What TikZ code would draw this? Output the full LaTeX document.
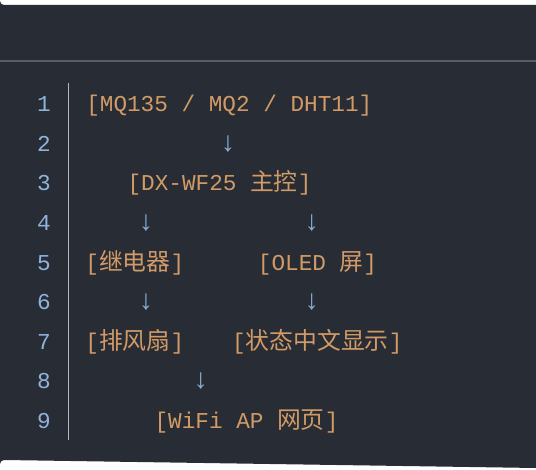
\documentclass[tikz,border=0pt]{standalone}
\usepackage{fontspec}
\setmonofont{Liberation Mono}
\newfontfamily\cjk[Scale=1.05]{Noto Sans CJK SC}
\definecolor{panelbg}{HTML}{282C34}
\definecolor{rulegray}{HTML}{595E66}
\definecolor{gutter}{HTML}{B3B8BF}
\definecolor{lineno}{HTML}{8FB3DC}
\definecolor{codeorange}{HTML}{D19A66}
\definecolor{arrowblue}{HTML}{86ADD9}

\begin{document}
\begin{tikzpicture}[x=1pt,y=-1pt,
  code/.style={font=\ttfamily\fontsize{22.7}{27}\selectfont, text=codeorange, inner sep=0pt, anchor=base},
  arr/.style={code, font=\ttfamily\fontsize{28}{30}\selectfont, text=arrowblue},
  lnum/.style={code, text=lineno}]
\def\top{111.8}
\def\row{39.6}

\useasboundingbox (0,0) rectangle (536,470);
\fill[white] (0,0) rectangle (536,470);
\clip (0,0) rectangle (536,470);

% Draw panel, header rule and gutter

\fill[panelbg] (536,5) -- (4,5) arc[start angle=90, end angle=180, radius=4] -- (0,464) arc[start angle=180, end angle=270, radius=4] -- (536,468) -- cycle;
\draw[rulegray, line width=2pt] (0,60.7) -- (536,60.7);
\coordinate (gtop) at (68.3,83.5);
\coordinate (gbot) at (68.3,440);
\draw[gutter, line width=1.3pt] (gtop) -- (gbot);

\foreach \n in {1,...,9} {\node[lnum] (ln\n) at (44,{\top+(\n-1)*\row}) {\n};}

% Code lines

\node[code] (sensors) at (229.3,\top) {[MQ135 / MQ2 / DHT11]};
\node[arr] (arrA) at (228,\top+\row) {↓};
\node[code] (mcu) at (219.5,\top+2*\row) {[DX-WF25 {\cjk 主控}]};
\node[arr] (arrB) at (146,\top+3*\row) {↓};
\node[arr] (arrC) at (311.7,\top+3*\row) {↓};
\node[code] (relay) at (134.8,\top+4*\row) {[{\cjk 继电器}]};
\node[code] (oled) at (317.5,\top+4*\row) {[OLED {\cjk 屏}]};
\node[arr] (arrD) at (146,\top+5*\row) {↓};
\node[arr] (arrE) at (311.7,\top+5*\row) {↓};
\node[code] (fan) at (134.8,\top+6*\row) {[{\cjk 排风扇}]};
\node[code] (disp) at (317.3,\top+6*\row) {[{\cjk 状态中文显示}]};
\node[arr] (arrF) at (200.7,\top+7*\row) {↓};
\node[code] (web) at (246.5,\top+8*\row) {[WiFi AP {\cjk 网页}]};

\end{tikzpicture}
\end{document}
